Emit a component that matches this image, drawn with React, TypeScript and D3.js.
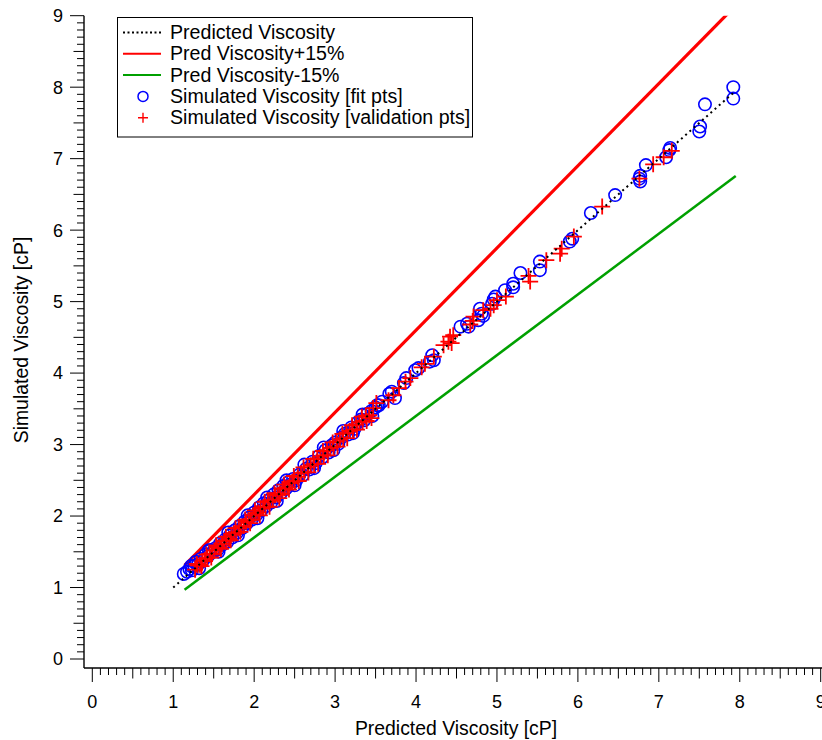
import React from "react";
import * as d3 from "d3";

// ---- data ----
const fitPredicted = [
  1.13, 1.17, 1.20, 1.23, 1.26, 1.28, 1.31, 1.34, 1.37, 1.40, 1.43, 1.46, 1.49, 1.52, 1.55, 1.58, 1.61, 1.64, 1.67, 1.70,
  1.73, 1.76, 1.79, 1.82, 1.85, 1.88, 1.91, 1.94, 1.97, 2.00, 2.03, 2.06, 2.09, 2.12, 2.15, 2.18, 2.21, 2.24, 2.27, 2.30,
  2.33, 2.36, 2.39, 2.42, 2.45, 2.48, 2.52, 2.56, 2.60, 2.64, 2.68, 2.72, 2.76, 2.80, 2.84, 2.88, 2.92, 2.96, 3.00, 3.04,
  3.08, 3.12, 3.16, 3.20, 3.24, 3.28, 3.32, 3.36, 3.40, 3.45, 3.50, 3.52, 3.54, 3.58, 3.67, 3.70, 3.74, 3.85, 3.88, 3.99,
  4.03, 4.17, 4.20, 4.22, 4.55, 4.63, 4.65, 4.77, 4.79, 4.81, 4.83, 4.94, 4.96, 4.98, 5.10, 5.20, 5.20, 5.29, 5.53, 5.53,
  5.90, 5.93, 6.16, 6.46, 6.76, 6.77, 6.77, 6.84, 7.09, 7.13, 7.14, 7.50, 7.51, 7.57, 7.92, 7.92,
  1.22, 1.32, 1.44, 1.56, 1.68, 1.80, 1.92, 2.04, 2.16, 2.28, 2.40, 2.50, 2.62, 2.74, 2.86, 2.98, 3.10, 3.22, 3.34, 3.46,
];
const fitSimulated = [
  1.19, 1.22, 1.26, 1.24, 1.30, 1.36, 1.33, 1.40, 1.38, 1.46, 1.44, 1.52, 1.50, 1.55, 1.53, 1.62, 1.60, 1.67, 1.64, 1.73,
  1.70, 1.80, 1.77, 1.86, 1.83, 1.92, 1.90, 1.98, 1.95, 2.05, 2.02, 2.12, 2.08, 2.18, 2.14, 2.22, 2.19, 2.30, 2.26, 2.36,
  2.32, 2.42, 2.38, 2.47, 2.44, 2.52, 2.50, 2.58, 2.57, 2.66, 2.65, 2.76, 2.74, 2.84, 2.82, 2.92, 2.89, 2.99, 3.03, 3.01,
  3.10, 3.15, 3.14, 3.24, 3.22, 3.31, 3.35, 3.34, 3.43, 3.47, 3.52, 3.55, 3.55, 3.60, 3.71, 3.74, 3.65, 3.86, 3.93, 4.04,
  4.07, 4.16, 4.25, 4.18, 4.65, 4.69, 4.65, 4.74, 4.90, 4.83, 4.80, 4.97, 5.03, 5.07, 5.16, 5.25, 5.20, 5.40, 5.56, 5.44,
  5.84, 5.88, 6.24, 6.49, 6.72, 6.76, 6.68, 6.91, 7.02, 7.12, 7.15, 7.38, 7.45, 7.76, 7.84, 8.00,
  1.30, 1.27, 1.52, 1.50, 1.77, 1.73, 2.01, 1.97, 2.26, 2.21, 2.50, 2.43, 2.72, 2.67, 2.96, 2.92, 3.19, 3.16, 3.42, 3.40,
];
const valPredicted = [
  1.27, 1.30, 1.33, 1.36, 1.39, 1.42, 1.45, 1.48, 1.51, 1.54, 1.57, 1.60, 1.63, 1.66, 1.69, 1.72, 1.75, 1.78, 1.81, 1.84,
  1.87, 1.90, 1.93, 1.96, 1.99, 2.02, 2.05, 2.08, 2.11, 2.14, 2.17, 2.20, 2.23, 2.26, 2.29, 2.32, 2.35, 2.38, 2.41, 2.44,
  2.47, 2.50, 2.54, 2.58, 2.62, 2.66, 2.70, 2.74, 2.78, 2.82, 2.86, 2.90, 2.94, 2.98, 3.02, 3.06, 3.10, 3.14, 3.18, 3.22,
  3.26, 3.30, 3.34, 3.38, 3.42, 3.45, 3.47, 3.51, 3.66, 3.72, 3.79, 3.87, 3.93, 4.07, 4.11, 4.22, 4.34, 4.40, 4.42, 4.44,
  4.46, 4.67, 4.70, 4.71, 4.83, 4.92, 4.96, 5.00, 5.11, 5.39, 5.41, 5.61, 5.78, 5.80, 5.95, 6.30, 6.76, 6.93, 7.06, 7.16,
  1.29, 1.35, 1.41, 1.47, 1.53, 1.59, 1.65, 1.71, 1.77, 1.83, 1.89, 1.95, 2.01, 2.07, 2.13, 2.19, 2.25, 2.31, 2.37, 2.43,
  2.49, 2.55, 2.61, 2.67, 2.73, 2.79, 2.85, 2.91, 2.97, 3.03, 3.09, 3.15, 3.21, 3.27, 3.33, 3.39,
];
const valSimulated = [
  1.25, 1.31, 1.32, 1.37, 1.39, 1.41, 1.47, 1.47, 1.52, 1.56, 1.56, 1.61, 1.65, 1.66, 1.68, 1.74, 1.76, 1.77, 1.83, 1.85,
  1.86, 1.92, 1.94, 1.95, 2.01, 2.04, 2.05, 2.11, 2.12, 2.13, 2.20, 2.22, 2.22, 2.29, 2.30, 2.31, 2.38, 2.39, 2.40, 2.46,
  2.48, 2.49, 2.55, 2.60, 2.61, 2.68, 2.71, 2.73, 2.80, 2.83, 2.85, 2.92, 2.95, 2.97, 3.04, 3.07, 3.09, 3.16, 3.19, 3.21,
  3.28, 3.31, 3.33, 3.40, 3.41, 3.37, 3.51, 3.58, 3.62, 3.69, 3.79, 3.88, 3.93, 4.08, 4.13, 4.23, 4.39, 4.44, 4.51, 4.42,
  4.53, 4.68, 4.73, 4.79, 4.88, 4.90, 4.95, 5.02, 5.07, 5.36, 5.28, 5.58, 5.67, 5.74, 5.91, 6.33, 6.72, 6.92, 7.02, 7.11,
  1.33, 1.30, 1.46, 1.42, 1.59, 1.54, 1.71, 1.66, 1.83, 1.78, 1.95, 1.90, 2.08, 2.01, 2.20, 2.13, 2.32, 2.25, 2.44, 2.37,
  2.56, 2.49, 2.68, 2.61, 2.80, 2.73, 2.91, 2.85, 3.03, 2.97, 3.15, 3.09, 3.27, 3.21, 3.39, 3.33,
];
const predLineX = [1.0, 7.95];
const bandLineX = [1.14, 7.95];
const xTicks = [0, 1, 2, 3, 4, 5, 6, 7, 8, 9];
const yTicks = [0, 1, 2, 3, 4, 5, 6, 7, 8, 9];
const legendLabels = [
  "Predicted Viscosity",
  "Pred Viscosity+15%",
  "Pred Viscosity-15%",
  "Simulated Viscosity [fit pts]",
  "Simulated Viscosity [validation pts]",
];

const FONT = "'Liberation Sans', Arial, Helvetica, sans-serif";

export default function App() {
  const W = 822, H = 740;
  const x = d3.scaleLinear().domain([0, 9]).range([92.3, 820.7]);
  const y = d3.scaleLinear().domain([0, 9]).range([659, 15.7]);
  const axisX = 84;
  const axisY = 668;

  const minor = d3.range(0, 90.5, 1).map((i) => i / 10);

  const lineGen = d3
    .line<[number, number]>()
    .x((d) => x(d[0]))
    .y((d) => y(d[1]));

  const predPts: [number, number][] = predLineX.map((v) => [v, v]);
  const upPts: [number, number][] = bandLineX.map((v) => [v, v * 1.15]);
  const lowPts: [number, number][] = bandLineX.map((v) => [v, v * 0.85]);

  const tickLen = (v: number) => {
    const r = Math.round(v * 10) % 10;
    if (r === 0) return 14;
    if (r === 5) return 10.5;
    return 7;
  };

  const legX = 117.5, legY = 17.5, legW = 355, legH = 119.5;
  const rowY = (i: number) => 32.5 + i * 21.3;

  return (
    <svg
      width={W}
      height={H}
      style={{ position: "absolute", left: 0, top: 0, background: "#fff" }}
      fontFamily={FONT}
    >
      <defs>
        <clipPath id="plotclip">
          <rect x={axisX} y={y(9)} width={W - axisX} height={axisY - y(9)} />
        </clipPath>
      </defs>

      {/* lines */}
      <g clipPath="url(#plotclip)">
        <path d={lineGen(upPts) || ""} stroke="#ff0000" strokeWidth={3.2} fill="none" />
        <path d={lineGen(lowPts) || ""} stroke="#00a000" strokeWidth={2.5} fill="none" />
      </g>

      {/* fit points */}
      <g>
        {fitPredicted.map((v, i) => (
          <circle
            key={"f" + i}
            cx={x(v)}
            cy={y(fitSimulated[i])}
            r={6.2}
            fill="none"
            stroke="#0000ff"
            strokeWidth={1.6}
          />
        ))}
      </g>
      {/* validation points */}
      <g>
        {valPredicted.map((v, i) => {
          const cx = x(v), cy = y(valSimulated[i]);
          return (
            <path
              key={"v" + i}
              d={`M${cx - 8},${cy}H${cx + 8}M${cx},${cy - 8}V${cy + 8}`}
              stroke="#ff0000"
              strokeWidth={1.8}
              fill="none"
            />
          );
        })}
      </g>
      {/* predicted line (dotted) on top */}
      <path
        d={lineGen(predPts) || ""}
        stroke="#000"
        strokeWidth={2}
        strokeDasharray="2,3.6"
        fill="none"
      />

      {/* axes */}
      <line x1={axisX} x2={W} y1={axisY} y2={axisY} stroke="#000" strokeWidth={1.4} />
      <line x1={axisX} x2={axisX} y1={axisY} y2={y(9)} stroke="#000" strokeWidth={1.4} />
      {minor.map((v) => (
        <line
          key={"xt" + v}
          x1={x(v)}
          x2={x(v)}
          y1={axisY}
          y2={axisY + tickLen(v)}
          stroke="#000"
          strokeWidth={1}
        />
      ))}
      {minor.map((v) => (
        <line
          key={"yt" + v}
          x1={axisX}
          x2={axisX - tickLen(v)}
          y1={y(v)}
          y2={y(v)}
          stroke="#000"
          strokeWidth={1}
        />
      ))}
      {xTicks.map((t) => (
        <text key={"xl" + t} x={x(t)} y={708} textAnchor="middle" fontSize={18} fill="#000">
          {t}
        </text>
      ))}
      {yTicks.map((t) => (
        <text key={"yl" + t} x={63} y={y(t) + 6.4} textAnchor="end" fontSize={18} fill="#000">
          {t}
        </text>
      ))}
      <text x={456} y={735} textAnchor="middle" fontSize={19.4} fill="#000">
        Predicted Viscosity [cP]
      </text>
      <text
        transform={`translate(27.5,${340}) rotate(-90)`}
        textAnchor="middle"
        fontSize={19.4}
        fill="#000"
      >
        Simulated Viscosity [cP]
      </text>

      {/* legend */}
      <rect x={legX} y={legY} width={legW} height={legH} fill="#fff" stroke="#000" strokeWidth={1} />
      <line x1={123} x2={161} y1={rowY(0)} y2={rowY(0)} stroke="#000" strokeWidth={2} strokeDasharray="2,2.5" />
      <line x1={123} x2={161} y1={rowY(1)} y2={rowY(1)} stroke="#ff0000" strokeWidth={2} />
      <line x1={123} x2={161} y1={rowY(2)} y2={rowY(2)} stroke="#00a000" strokeWidth={2} />
      <circle cx={143} cy={rowY(3)} r={5} fill="none" stroke="#0000ff" strokeWidth={1.5} />
      <path
        d={`M${138},${rowY(4)}H${148}M${143},${rowY(4) - 5}V${rowY(4) + 5}`}
        stroke="#ff0000"
        strokeWidth={1.4}
      />
      {legendLabels.map((l, i) => (
        <text key={l} x={170} y={rowY(i) + 6.5} fontSize={19.6} fill="#000">
          {l}
        </text>
      ))}
    </svg>
  );
}
